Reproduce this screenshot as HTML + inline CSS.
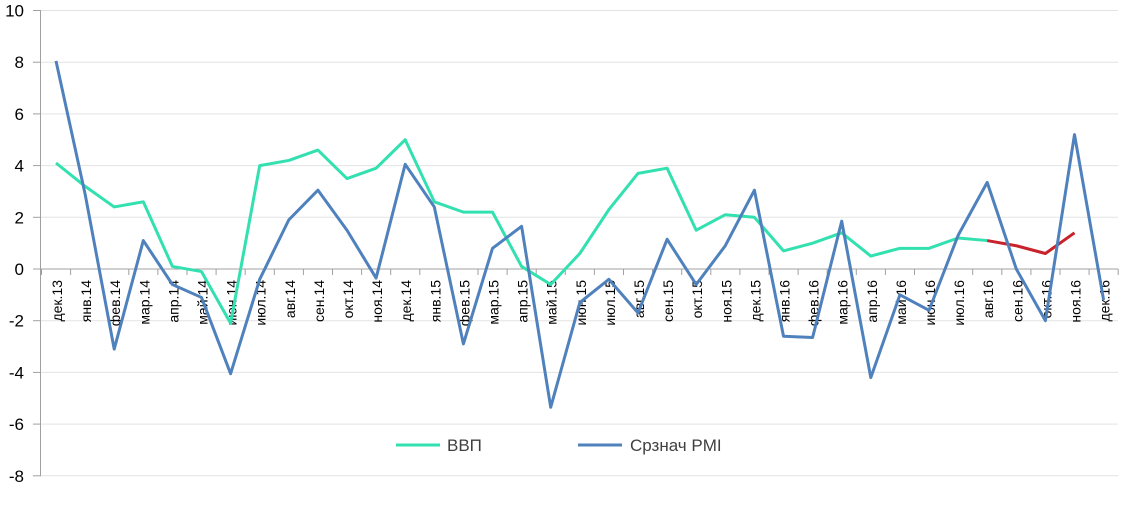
<!DOCTYPE html>
<html><head><meta charset="utf-8"><style>body{margin:0;background:#fff}svg text{font-family:"Liberation Sans",sans-serif}</style></head><body>
<svg id="s" width="1124" height="500" xmlns="http://www.w3.org/2000/svg"></svg>
<script>
const s=document.getElementById('s');const NS='http://www.w3.org/2000/svg';
function el(t,a,txt){const e=document.createElementNS(NS,t);for(const k in a)e.setAttribute(k,a[k]);if(txt!==undefined)e.textContent=txt;s.appendChild(e);return e;}
const Y=v=>269-v*25.85, X=i=>56+i*29.1;
for(let v=-8;v<=10;v+=2){el('line',{x1:41,x2:1118,y1:Y(v),y2:Y(v),stroke:'#e3e3e3','stroke-width':1});
el('line',{x1:33,x2:41,y1:Y(v),y2:Y(v),stroke:'#a0a0a0','stroke-width':1});
el('text',{x:24,y:Y(v)+6,'text-anchor':'end','font-size':17,fill:'#000'},v);}
el('line',{x1:40.5,x2:40.5,y1:Y(10),y2:Y(-8),stroke:'#a0a0a0'});
el('line',{x1:41,x2:1118,y1:269,y2:269,stroke:'#a0a0a0'});
for(let i=0;i<=37;i++){const x=41.5+i*29.1;el('line',{x1:x,x2:x,y1:269,y2:275,stroke:'#a0a0a0'});}
const m=['дек','янв','фев','мар','апр','май','июн','июл','авг','сен','окт','ноя'];
for(let i=0;i<37;i++){const mo=m[i%12];const yr=13+Math.floor((i+11)/12);
el('text',{transform:`translate(${X(i)+6},280) rotate(-90)`,'text-anchor':'end','font-size':14,fill:'#000'},mo+'.'+yr);}
const g=[4.1,3.2,2.4,2.6,0.1,-0.1,-2.1,4.0,4.2,4.6,3.5,3.9,5.0,2.6,2.2,2.2,0.1,-0.6,0.6,2.3,3.7,3.9,1.5,2.1,2.0,0.7,1.0,1.4,0.5,0.8,0.8,1.2,1.1];
const r=[1.1,0.9,0.6,1.4];
const b=[8.05,2.9,-3.1,1.1,-0.6,-1.1,-4.05,-0.4,1.9,3.05,1.5,-0.35,4.05,2.4,-2.9,0.8,1.65,-5.35,-1.3,-0.4,-1.7,1.15,-0.6,0.9,3.05,-2.6,-2.65,1.85,-4.2,-1.0,-1.6,1.3,3.35,0.0,-2.0,5.2,-1.2];
const pts=(a,o)=>a.map((v,i)=>X(i+o)+','+Y(v)).join(' ');
el('polyline',{points:pts(g,0),fill:'none',stroke:'#33e0b0','stroke-width':3,'stroke-linejoin':'round'});
el('polyline',{points:pts(r,32),fill:'none',stroke:'#c8232c','stroke-width':3,'stroke-linejoin':'round'});
el('polyline',{points:pts(b,0),fill:'none',stroke:'#4f81bd','stroke-width':3,'stroke-linejoin':'round'});
el('line',{x1:396,x2:440,y1:445,y2:445,stroke:'#33e0b0','stroke-width':3});
el('text',{x:447,y:451,'font-size':17,fill:'#404040'},'ВВП');
el('line',{x1:578,x2:622,y1:445,y2:445,stroke:'#4f81bd','stroke-width':3});
el('text',{x:630,y:451,'font-size':17,fill:'#404040'},'Срзнач PMI');
</script></body></html>
